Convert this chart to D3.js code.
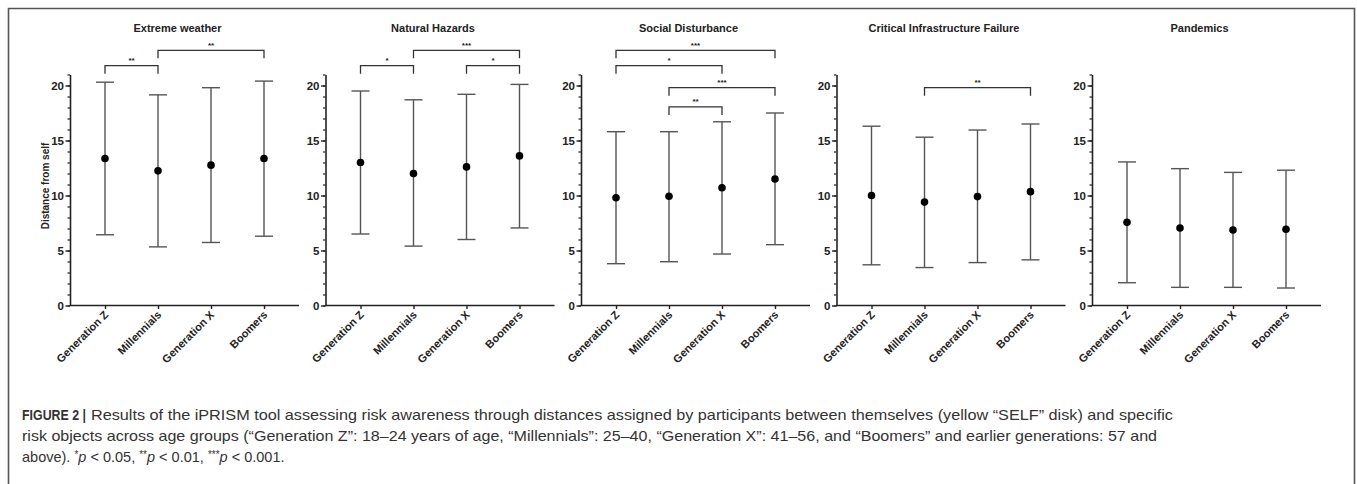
<!DOCTYPE html>
<html>
<head>
<meta charset="utf-8">
<script src="https://cdn.jsdelivr.net/npm/d3@7"></script>
<style>
  html, body { margin: 0; padding: 0; background: #fff; }
  svg { display: block; }
</style>
</head>
<body>
<svg id="chart" width="1357" height="484"></svg>
<script>
// ---------------- DATA ----------------
const categories = ["Generation Z", "Millennials", "Generation X", "Boomers"];
const panelTitles = ["Extreme weather", "Natural Hazards", "Social Disturbance", "Critical Infrastructure Failure", "Pandemics"];
const yTickValues = [0, 5, 10, 15, 20];
const yAxisLabel = "Distance from self";

const meanValues = [
  [13.36, 12.24, 12.76, 13.36],
  [13.0, 12.0, 12.6, 13.6],
  [9.8, 9.93, 10.7, 11.5],
  [10.0, 9.4, 9.9, 10.35],
  [7.56, 7.05, 6.86, 6.93]
];
const lowerValues = [
  [6.43, 5.33, 5.73, 6.3],
  [6.5, 5.4, 6.0, 7.05],
  [3.8, 3.98, 4.68, 5.53],
  [3.7, 3.45, 3.9, 4.15],
  [2.07, 1.65, 1.65, 1.59]
];
const upperValues = [
  [20.3, 19.15, 19.8, 20.4],
  [19.5, 18.7, 19.2, 20.1],
  [15.8, 15.8, 16.7, 17.5],
  [16.3, 15.3, 15.95, 16.5],
  [13.05, 12.44, 12.1, 12.3]
];
// significance brackets: [panel, fromCategory, toCategory, label, level (value units)]
const brackets = [
  [0, 0, 1, "**", 21.8],
  [0, 1, 3, "**", 23.2],
  [1, 0, 1, "*", 21.8],
  [1, 1, 3, "***", 23.2],
  [1, 2, 3, "*", 21.8],
  [2, 0, 3, "***", 23.2],
  [2, 0, 2, "*", 21.8],
  [2, 1, 3, "***", 19.8],
  [2, 1, 2, "**", 18.05],
  [3, 1, 3, "**", 19.8]
];

const captionBold = "FIGURE 2 |";
const captionLine1 = "Results of the iPRISM tool assessing risk awareness through distances assigned by participants between themselves (yellow \u201CSELF\u201D disk) and specific";
const captionLine2 = "risk objects across age groups (\u201CGeneration Z\u201D: 18\u201324 years of age, \u201CMillennials\u201D: 25\u201340, \u201CGeneration X\u201D: 41\u201356, and \u201CBoomers\u201D and earlier generations: 57 and";

// ---------------- LAYOUT ----------------
const svg = d3.select("#chart");
const chartFont = "'Liberation Sans', Arial, Helvetica, sans-serif";
const axisColor = "#222";
const barColor = "#555";

// figure frame
svg.append("path")
  .attr("d", "M8.5,484 L8.5,8.5 L1354.5,8.5 L1354.5,484")
  .attr("fill", "none").attr("stroke", "#555").attr("stroke-width", 1.6);

const firstAxisX = 70;
const panelStep = 255.5;
const plotWidth = 229;
const yZero = 305.5;
const yTop = 74.5;

const y = d3.scaleLinear().domain([0, 21]).range([yZero, yTop]);

panelTitles.forEach((title, p) => {
  const x0 = firstAxisX + p * panelStep;
  const g = svg.append("g").attr("transform", `translate(${x0},0)`);
  const x = d3.scalePoint().domain(categories).range([35, plotWidth - 35]);

  // title
  g.append("text")
    .attr("x", plotWidth / 2 - 7).attr("y", 32)
    .attr("text-anchor", "middle")
    .attr("font-family", chartFont).attr("font-weight", "bold")
    .attr("font-size", "11px").attr("fill", "#222")
    .text(title);

  // y axis: minor ticks
  const minor = g.append("g").call(
    d3.axisLeft(y).tickValues(d3.range(0, 22, 1)).tickSize(2.5).tickFormat("")
  );
  minor.select(".domain").remove();
  minor.selectAll("line").attr("stroke", axisColor).attr("stroke-width", 1.2);

  // y axis: major ticks
  const yAxisG = g.append("g").call(
    d3.axisLeft(y).tickValues(yTickValues).tickSize(4.5).tickPadding(1.5).tickSizeOuter(0)
  );
  yAxisG.select(".domain").attr("stroke", axisColor).attr("stroke-width", 1.6);
  yAxisG.selectAll(".tick line").attr("stroke", axisColor).attr("stroke-width", 1.4);
  yAxisG.selectAll(".tick text")
    .attr("font-family", chartFont).attr("font-weight", "bold")
    .attr("font-size", "11.5px").attr("fill", "#222");

  // x axis
  const xAxisG = g.append("g").attr("transform", `translate(0,${yZero})`).call(
    d3.axisBottom(x).tickSize(3.5).tickSizeOuter(0).tickFormat("")
  );
  xAxisG.select(".domain").attr("d", `M0,0H${plotWidth}`).attr("stroke", axisColor).attr("stroke-width", 1.6);
  xAxisG.selectAll(".tick line").attr("stroke", axisColor).attr("stroke-width", 1.4);

  // x labels rotated
  g.selectAll(".xlab").data(categories).enter().append("text")
    .attr("class", "xlab")
    .attr("transform", d => `translate(${x(d) + 4},${yZero + 10}) rotate(-45)`)
    .attr("text-anchor", "end")
    .attr("font-family", chartFont).attr("font-weight", "bold")
    .attr("font-size", "11px").attr("fill", "#222")
    .text(d => d);

  // error bars
  const rows = categories.map((c, i) => ({
    c, mean: meanValues[p][i], lo: lowerValues[p][i], hi: upperValues[p][i]
  }));
  const eb = g.append("g");
  eb.selectAll(".v").data(rows).enter().append("line")
    .attr("x1", d => x(d.c)).attr("x2", d => x(d.c))
    .attr("y1", d => y(d.lo)).attr("y2", d => y(d.hi))
    .attr("stroke", barColor).attr("stroke-width", 1.4);
  eb.selectAll(".capHi").data(rows).enter().append("line")
    .attr("x1", d => x(d.c) - 9).attr("x2", d => x(d.c) + 9)
    .attr("y1", d => y(d.hi)).attr("y2", d => y(d.hi))
    .attr("stroke", barColor).attr("stroke-width", 1.4);
  eb.selectAll(".capLo").data(rows).enter().append("line")
    .attr("x1", d => x(d.c) - 9).attr("x2", d => x(d.c) + 9)
    .attr("y1", d => y(d.lo)).attr("y2", d => y(d.lo))
    .attr("stroke", barColor).attr("stroke-width", 1.4);
  eb.selectAll("circle").data(rows).enter().append("circle")
    .attr("cx", d => x(d.c)).attr("cy", d => y(d.mean))
    .attr("r", 3.8).attr("fill", "#000");

  // significance brackets
  const bs = brackets.filter(b => b[0] === p);
  const bg = g.append("g");
  bs.forEach(b => {
    const xa = x(categories[b[1]]), xb = x(categories[b[2]]);
    const yy = y(b[4]);
    bg.append("path")
      .attr("d", `M${xa},${yy + 8}V${yy}H${xb}V${yy + 8}`)
      .attr("fill", "none").attr("stroke", "#333").attr("stroke-width", 1.3);
    bg.append("text")
      .attr("x", (xa + xb) / 2).attr("y", yy - 2.5)
      .attr("text-anchor", "middle")
      .attr("font-family", chartFont).attr("font-weight", "bold")
      .attr("font-size", "8px").attr("fill", "#222")
      .text(b[3]);
  });
});

// y-axis title (first panel)
svg.append("text")
  .attr("transform", `translate(48.5,186) rotate(-90)`)
  .attr("text-anchor", "middle")
  .attr("font-family", chartFont).attr("font-weight", "bold")
  .attr("font-size", "10px").attr("fill", "#222")
  .text(yAxisLabel);

// ---------------- CAPTION ----------------
const capFont = "'Liberation Sans Narrow', 'Liberation Sans', Arial, sans-serif";
const capColor = "#333";
svg.append("text")
  .attr("x", 22).attr("y", 420)
  .attr("font-family", capFont).attr("font-weight", "bold")
  .attr("font-size", "14.5px").attr("fill", capColor)
  .attr("textLength", 64).attr("lengthAdjust", "spacingAndGlyphs")
  .text(captionBold);
svg.append("text")
  .attr("x", 91).attr("y", 420)
  .attr("font-family", capFont)
  .attr("font-size", "14.5px").attr("fill", capColor)
  .attr("textLength", 1082).attr("lengthAdjust", "spacingAndGlyphs")
  .text(captionLine1);
svg.append("text")
  .attr("x", 22).attr("y", 441)
  .attr("font-family", capFont)
  .attr("font-size", "14.5px").attr("fill", capColor)
  .attr("textLength", 1135).attr("lengthAdjust", "spacingAndGlyphs")
  .text(captionLine2);

const l3 = svg.append("text")
  .attr("x", 22).attr("y", 462)
  .attr("font-family", capFont)
  .attr("font-size", "14.5px").attr("fill", capColor);
const parts = [
  ["above). ", null], ["*", "sup"], ["p", "it"], [" < 0.05, ", null],
  ["**", "sup"], ["p", "it"], [" < 0.01, ", null],
  ["***", "sup"], ["p", "it"], [" < 0.001.", null]
];
parts.forEach(([t, k]) => {
  const ts = l3.append("tspan").text(t);
  if (k === "sup") ts.attr("font-size", "10px").attr("dy", -4);
  if (k === "it") ts.attr("font-style", "italic").attr("dy", 4);
});
</script>
</body>
</html>
